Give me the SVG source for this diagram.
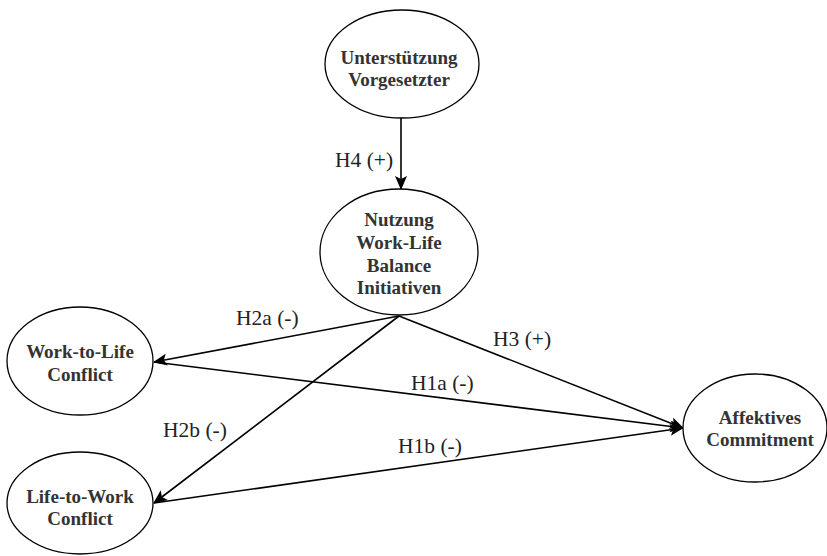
<svg xmlns="http://www.w3.org/2000/svg" width="827" height="556" viewBox="0 0 827 556">
<defs>
<marker id="arr" markerUnits="userSpaceOnUse" markerWidth="14" markerHeight="12" viewBox="0 0 14 12" refX="13" refY="6" orient="auto">
<path d="M0,0 L14,6 L0,12 L3,6 Z" fill="#000"/>
</marker>
</defs>
<style>
.node ellipse{fill:#fff;stroke:#000;stroke-width:1.3}
.node text{font-family:"Liberation Serif","Times New Roman",serif;font-weight:bold;font-size:19px;fill:#333;text-anchor:middle}
.edges line{stroke:#000;stroke-width:1.6;marker-end:url(#arr)}
.lbl{font-family:"Liberation Serif","Times New Roman",serif;font-size:21.5px;fill:#222}
</style>
<g class="edges">
<line x1="401" y1="118" x2="401" y2="189"/>
<line x1="399" y1="316" x2="154" y2="362"/>
<line x1="399" y1="316" x2="154" y2="503"/>
<line x1="399" y1="316" x2="683" y2="428"/>
<line x1="154" y1="362" x2="683" y2="428"/>
<line x1="154" y1="503" x2="683" y2="428"/>
</g>
<g id="n-unterstuetzung" class="node">
<ellipse cx="402" cy="64" rx="77" ry="54"/>
<text x="399" y="64">Unterstützung</text>
<text x="399" y="86">Vorgesetzter</text>
</g>
<g id="n-nutzung" class="node">
<ellipse cx="399" cy="252" rx="79" ry="63"/>
<text x="399" y="226">Nutzung</text>
<text x="399" y="249">Work-Life</text>
<text x="399" y="272">Balance</text>
<text x="399" y="294">Initiativen</text>
</g>
<g id="n-wtl" class="node">
<ellipse cx="80" cy="361" rx="73" ry="54"/>
<text x="80" y="358">Work-to-Life</text>
<text x="80" y="381">Conflict</text>
</g>
<g id="n-ltw" class="node">
<ellipse cx="80" cy="503" rx="73" ry="51"/>
<text x="80" y="503">Life-to-Work</text>
<text x="80" y="525">Conflict</text>
</g>
<g id="n-affektiv" class="node">
<ellipse cx="755" cy="428" rx="72" ry="54"/>
<text x="760" y="424">Affektives</text>
<text x="760" y="446">Commitment</text>
</g>
<g id="labels">
<text class="lbl" x="335" y="167">H4 (+)</text>
<text class="lbl" x="236" y="325">H2a (-)</text>
<text class="lbl" x="493" y="346">H3 (+)</text>
<text class="lbl" x="411" y="390">H1a (-)</text>
<text class="lbl" x="163" y="437">H2b (-)</text>
<text class="lbl" x="398" y="453">H1b (-)</text>
</g>
</svg>
